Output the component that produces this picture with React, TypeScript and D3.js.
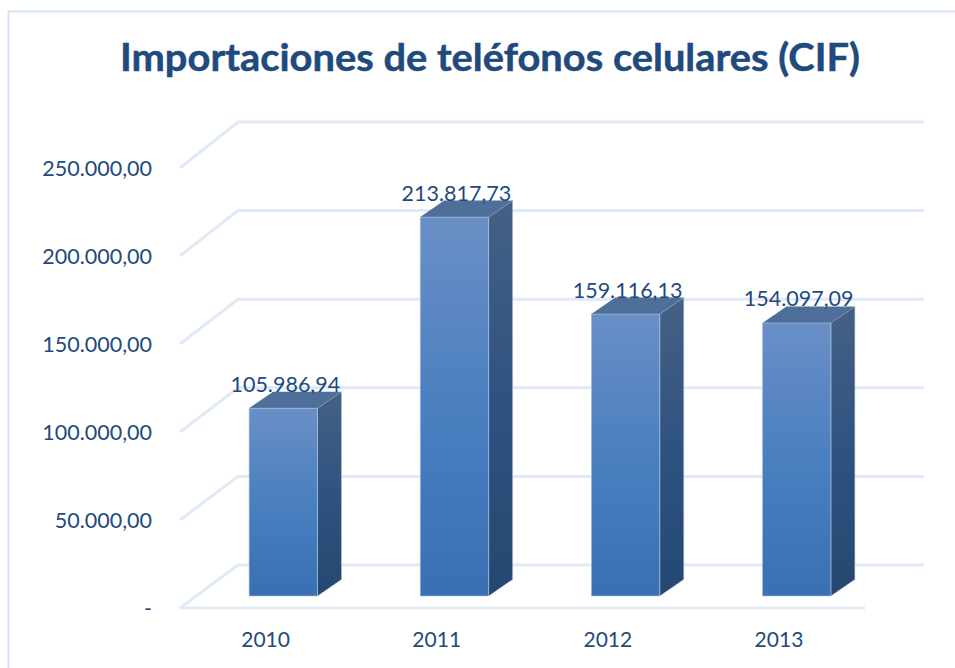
import React from "react";
import * as d3 from "d3";

const years = ["2010", "2011", "2012", "2013"];
const imports = [105986.94, 213817.73, 159116.13, 154097.09];
const importLabels = ["105.986,94", "213.817,73", "159.116,13", "154.097,09"];
const yTicks = [0, 50000, 100000, 150000, 200000, 250000];
const yTickLabels = ["-", "50.000,00", "100.000,00", "150.000,00", "200.000,00", "250.000,00"];
const title = "Importaciones de teléfonos celulares (CIF)";

const FONT = "Lato, Carlito, sans-serif";
const INK = "#1f4a7d";
const DX = 24;
const DY = -16.5;

export default function App() {
  const y = d3.scaleLinear().domain([0, 250000]).range([596, 153]);
  const backY = d3.scaleLinear().domain([0, 250000]).range([565, 122]);
  const frontY = d3.scaleLinear().domain([0, 250000]).range([608, 168]);
  const colX = d3.scaleBand().domain(years).range([249 - 51.25, 831 + 51.25]).paddingInner(0.6).paddingOuter(0.3);
  const wallLeft = 238;
  const wallRight = 924;
  const bw = colX.bandwidth();
  return (
    <svg width={955} height={668} style={{ position: "absolute", left: 0, top: 0, background: "#fff" }}>
      <defs>
        <linearGradient id="front" x1="0" y1="0" x2="0" y2="1">
          <stop offset="0" stopColor="#6a8fc6" />
          <stop offset="0.5" stopColor="#4a7fc0" />
          <stop offset="1" stopColor="#3a70b3" />
        </linearGradient>
        <linearGradient id="side" x1="0" y1="0" x2="0" y2="1">
          <stop offset="0" stopColor="#456085" />
          <stop offset="0.5" stopColor="#2f5380" />
          <stop offset="1" stopColor="#244870" />
        </linearGradient>
      </defs>
      <path d="M8.5 668V11.5H955" fill="none" stroke="#d5e5f7" strokeWidth={2} />
      <text x={490} y={71} textAnchor="middle" fontFamily={FONT} fontWeight={700} fontSize={38} textLength={740} lengthAdjust="spacingAndGlyphs" fill={INK} stroke={INK} strokeWidth={0.5}>{title}</text>
      {yTicks.map((t, i) => (
        <g key={t}>
          <path d={`M180 ${frontY(t)}L${wallLeft} ${backY(t)}H${wallRight}`} fill="none" stroke="#e0e9f7" strokeWidth={3} />
          <text x={152} y={frontY(t) + 8} textAnchor="end" fontFamily={FONT} fontSize={21.5} fill={INK}>
            {yTickLabels[i]}
          </text>
        </g>
      ))}
      <path d={`M180 ${frontY(0)}H865`} fill="none" stroke="#e0e9f7" strokeWidth={3} />
      {years.map((yr, i) => {
        const x0 = colX(yr) as number;
        const x1 = x0 + bw;
        const top = y(imports[i]);
        const bot = y(0);
        return (
          <g key={yr}>
            <path d={`M${x1} ${bot}L${x1 + DX} ${bot + DY}V${top + DY}L${x1} ${top}Z`} fill="url(#side)" stroke="#c3d2e6" strokeWidth={0.5} />
            <path d={`M${x0} ${top}L${x0 + DX} ${top + DY}H${x1 + DX}L${x1} ${top}Z`} fill="#4f6f9b" />
            <rect x={x0} y={top} width={bw} height={bot - top} fill="url(#front)" stroke="#a9c3e4" strokeWidth={0.6} />
            <text x={x0 + bw / 2 + 2} y={top - 16.5} textAnchor="middle" fontFamily={FONT} fontSize={21.5} fill={INK}>
              {importLabels[i]}
            </text>
            <text x={x0 + 16.5} y={647} textAnchor="middle" fontFamily={FONT} fontSize={21} fill={INK}>
              {yr}
            </text>
          </g>
        );
      })}
    </svg>
  );
}
